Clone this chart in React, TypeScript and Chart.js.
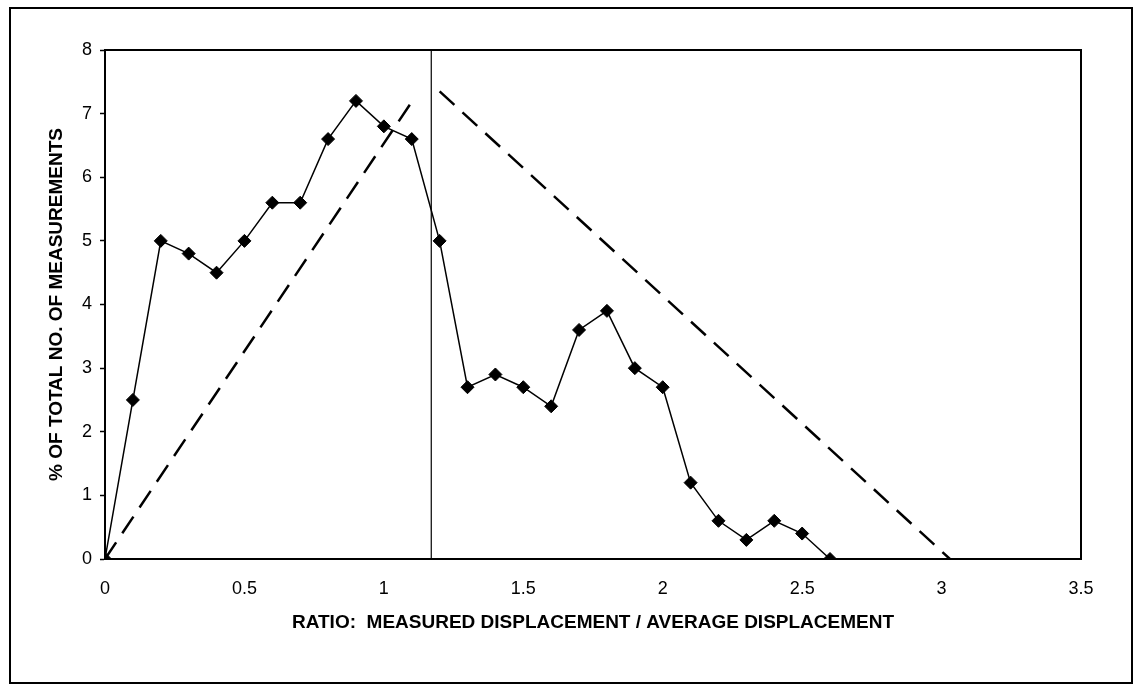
import React, { useEffect, useRef } from "react";
import { Chart, registerables } from "chart.js";

Chart.register(...registerables);

const X_VALUES = [0, 0.1, 0.2, 0.3, 0.4, 0.5, 0.6, 0.7, 0.8, 0.9, 1.0, 1.1, 1.2, 1.3, 1.4, 1.5, 1.6, 1.7, 1.8, 1.9, 2.0, 2.1, 2.2, 2.3, 2.4, 2.5, 2.6];
const PERCENT = [0, 2.5, 5.0, 4.8, 4.5, 5.0, 5.6, 5.6, 6.6, 7.2, 6.8, 6.6, 5.0, 2.7, 2.9, 2.7, 2.4, 3.6, 3.9, 3.0, 2.7, 1.2, 0.6, 0.3, 0.6, 0.4, 0];

const DASH_LEFT_X = [0, 1.11];
const DASH_LEFT_Y = [0, 7.25];
const DASH_RIGHT_X = [1.2, 3.03];
const DASH_RIGHT_Y = [7.35, 0];
const DIVIDER_X = 1.17;

const X_TITLE = "RATIO:  MEASURED DISPLACEMENT / AVERAGE DISPLACEMENT";
const Y_TITLE = "% OF TOTAL NO. OF MEASUREMENTS";

const FONT = "'Liberation Sans', Arial, sans-serif";

const framePlugin = {
  id: "frame",
  beforeDraw(chart: any) {
    const ctx = chart.ctx;
    ctx.save();
    ctx.fillStyle = "#ffffff";
    ctx.fillRect(0, 0, chart.width, chart.height);
    ctx.restore();
  },
  afterDraw(chart: any) {
    const ctx = chart.ctx;
    const a = chart.chartArea;
    ctx.save();
    ctx.strokeStyle = "#000";
    ctx.lineWidth = 2;
    ctx.strokeRect(a.left, a.top, a.right - a.left, a.bottom - a.top);
    ctx.lineWidth = 2;
    ctx.strokeRect(10, 8, 1122, 675);
    ctx.restore();
  },
};

export default function App() {
  const ref = useRef<HTMLCanvasElement | null>(null);
  useEffect(() => {
    if (!ref.current) return;
    const pts = (xs: number[], ys: number[]) => xs.map((x, i) => ({ x, y: ys[i] }));
    const chart = new Chart(ref.current, {
      type: "line",
      data: {
        datasets: [
          {
            data: pts(X_VALUES, PERCENT),
            borderColor: "#000",
            backgroundColor: "#000",
            borderWidth: 1.5,
            pointStyle: "rectRot",
            pointRadius: 6.5,
            pointBorderWidth: 1,
            pointBorderColor: "#000",
            pointBackgroundColor: "#000",
            tension: 0,
          },
          {
            data: pts(DASH_LEFT_X, DASH_LEFT_Y),
            borderColor: "#000",
            borderWidth: 2.5,
            borderDash: [20, 11],
            pointRadius: 0,
          },
          {
            data: pts(DASH_RIGHT_X, DASH_RIGHT_Y),
            borderColor: "#000",
            borderWidth: 2.5,
            borderDash: [20, 11],
            pointRadius: 0,
          },
          {
            data: [
              { x: DIVIDER_X, y: 0 },
              { x: DIVIDER_X, y: 8 },
            ],
            borderColor: "#000",
            borderWidth: 1.2,
            pointRadius: 0,
          },
        ],
      },
      options: {
        responsive: false,
        animation: false,
        layout: { padding: { left: 42, top: 50, right: 53, bottom: 50 } },
        plugins: { legend: { display: false }, tooltip: { enabled: false } },
        scales: {
          x: {
            type: "linear",
            min: 0,
            max: 3.5,
            ticks: {
              stepSize: 0.5,
              color: "#000",
              padding: 19,
              font: { family: FONT, size: 18 },
              callback: (v: any) => String(Number(v)),
            },
            grid: { display: true, drawOnChartArea: false, drawTicks: false, color: "#000" },
            border: { display: true, color: "#000", width: 2 },
            title: {
              display: true,
              text: X_TITLE,
              color: "#000",
              padding: { top: 0, bottom: 0 },
              font: { family: FONT, size: 19, weight: "bold" },
            },
            afterFit: (s: any) => {
              s.height = 75;
            },
          },
          y: {
            type: "linear",
            min: 0,
            max: 8,
            ticks: {
              stepSize: 1,
              color: "#000",
              padding: 8,
              font: { family: FONT, size: 18 },
              callback: (v: any) => String(Number(v)),
            },
            grid: { display: true, drawOnChartArea: false, drawTicks: true, tickLength: 5, color: "#000", tickWidth: 1.5 },
            border: { display: true, color: "#000", width: 2 },
            title: {
              display: true,
              text: Y_TITLE,
              color: "#000",
              padding: { top: 3, bottom: 0 },
              font: { family: FONT, size: 19, weight: "bold" },
            },
            afterFit: (s: any) => {
              s.width = 63;
            },
          },
        },
      },
      plugins: [framePlugin],
    } as any);
    return () => chart.destroy();
  }, []);
  return (
    <div style={{ position: "fixed", left: 0, top: 0, width: 1134, height: 684, background: "#fff" }}>
      <canvas ref={ref} width={1134} height={684} style={{ display: "block" }} />
    </div>
  );
}
